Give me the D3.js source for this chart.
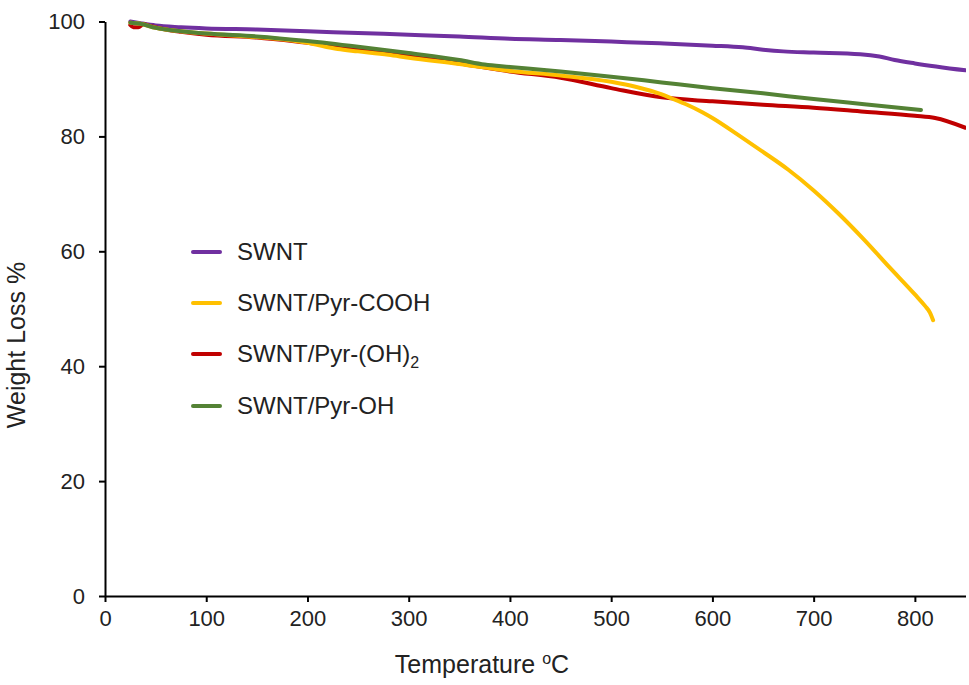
<!DOCTYPE html>
<html>
<head>
<meta charset="utf-8">
<script src="https://cdn.jsdelivr.net/npm/d3@7"></script>
<style>
  html, body { margin: 0; padding: 0; background: #fff; }
  svg { display: block; font-family: Arial, "Liberation Sans", Helvetica, sans-serif; }
</style>
</head>
<body>
<svg id="chart" width="969" height="685"></svg>
<script>
// Thermogravimetric curves: temperature (°C) vs remaining weight (%)
const xTicks = [0, 100, 200, 300, 400, 500, 600, 700, 800];
const yTicks = [0, 20, 40, 60, 80, 100];

const swntT = [25, 35, 50, 75, 100, 150, 200, 250, 300, 350, 400, 450, 500, 548, 600, 630, 650, 670, 700, 746, 765, 780, 800, 850];
const swntW = [100, 99.7, 99.3, 99.0, 98.8, 98.6, 98.3, 98.0, 97.7, 97.4, 97.0, 96.8, 96.5, 96.2, 95.8, 95.5, 95.1, 94.8, 94.6, 94.3, 93.9, 93.3, 92.7, 91.5];

const coohT = [25, 35, 50, 75, 100, 150, 200, 230, 250, 280, 300, 350, 400, 450, 500, 525, 550, 560, 575, 590, 600, 625, 650, 675, 700, 725, 750, 775, 800, 810, 815, 818];
const coohW = [99.8, 99.6, 98.9, 98.3, 97.9, 97.3, 96.3, 95.2, 94.8, 94.2, 93.7, 92.6, 91.4, 90.6, 89.5, 88.6, 87.3, 86.6, 85.5, 84.2, 83.2, 80.3, 77.3, 74.2, 70.6, 66.5, 62.0, 57.2, 52.5, 50.5, 49.3, 48.0];

const diohT = [25, 28, 33, 38, 45, 60, 75, 100, 150, 200, 250, 300, 350, 400, 450, 500, 550, 600, 650, 700, 750, 800, 820, 850];
const diohW = [99.4, 99.0, 99.0, 99.5, 99.2, 98.6, 98.2, 97.7, 97.2, 96.3, 95.3, 94.0, 92.7, 91.3, 90.2, 88.4, 86.8, 86.1, 85.5, 85.0, 84.3, 83.6, 83.2, 81.5];

const ohT = [25, 35, 50, 75, 100, 150, 200, 250, 300, 350, 375, 400, 450, 500, 550, 600, 650, 700, 750, 806];
const ohW = [99.8, 99.6, 98.9, 98.3, 97.9, 97.4, 96.6, 95.6, 94.5, 93.3, 92.5, 92.1, 91.3, 90.4, 89.4, 88.4, 87.5, 86.5, 85.6, 84.6];

const series = [
  { name: "SWNT", sub: null, color: "#7030A0", t: swntT, w: swntW },
  { name: "SWNT/Pyr-COOH", sub: null, color: "#FFC000", t: coohT, w: coohW },
  { name: "SWNT/Pyr-(OH)", sub: "2", color: "#C00000", t: diohT, w: diohW },
  { name: "SWNT/Pyr-OH", sub: null, color: "#548235", t: ohT, w: ohW }
];
// draw order: purple, red, yellow, green on top
const drawOrder = [0, 2, 1, 3];

const svg = d3.select("#chart");
const x = d3.scaleLinear().domain([0, 850]).range([105, 965.5]);
const y = d3.scaleLinear().domain([0, 100]).range([596, 21.5]);

svg.append("defs").append("clipPath").attr("id", "plotClip")
  .append("rect").attr("x", 105).attr("y", 0).attr("width", 861).attr("height", 600);

const line = d3.line()
  .x(d => x(d[0]))
  .y(d => y(d[1]))
  .curve(d3.curveMonotoneX);

const plot = svg.append("g").attr("clip-path", "url(#plotClip)");
drawOrder.forEach(i => {
  const s = series[i];
  plot.append("path")
    .datum(s.t.map((t, k) => [t, s.w[k]]))
    .attr("fill", "none")
    .attr("stroke", s.color)
    .attr("stroke-width", 4)
    .attr("stroke-linecap", "round")
    .attr("stroke-linejoin", "round")
    .attr("d", line);
});

// Axes
const xAxis = svg.append("g").attr("transform", "translate(0,596)")
  .call(d3.axisBottom(x).tickValues(xTicks).tickSize(6).tickSizeOuter(0).tickPadding(8));
const yAxis = svg.append("g").attr("transform", "translate(105,0)")
  .call(d3.axisLeft(y).tickValues(yTicks).tickSize(6).tickSizeOuter(0).tickPadding(14));

[xAxis, yAxis].forEach(g => {
  g.select(".domain").attr("stroke", "#000").attr("stroke-width", 2);
  g.selectAll(".tick line").attr("stroke", "#000").attr("stroke-width", 2);
  g.selectAll(".tick text").attr("fill", "#222").attr("font-size", 22)
    .attr("font-family", "Arial, 'Liberation Sans', sans-serif");
});

// Axis titles
svg.append("text")
  .attr("x", 482).attr("y", 673)
  .attr("text-anchor", "middle")
  .attr("font-size", 25).attr("fill", "#222")
  .call(t => {
    t.append("tspan").text("Temperature ");
    t.append("tspan").attr("font-size", 16).attr("dy", -9).text("o");
    t.append("tspan").attr("dy", 9).text("C");
  });

svg.append("text")
  .attr("transform", "translate(25,345) rotate(-90)")
  .attr("text-anchor", "middle")
  .attr("font-size", 25).attr("fill", "#222")
  .text("Weight Loss %");

// Legend
const legY = [252, 303, 354, 406];
series.forEach((s, i) => {
  const g = svg.append("g").attr("transform", `translate(0,${legY[i]})`);
  g.append("line")
    .attr("x1", 193).attr("x2", 220).attr("y1", 0).attr("y2", 0)
    .attr("stroke", s.color).attr("stroke-width", 4).attr("stroke-linecap", "round");
  const txt = g.append("text")
    .attr("x", 237).attr("y", 8)
    .attr("font-size", 24).attr("fill", "#222");
  txt.append("tspan").text(s.name);
  if (s.sub) {
    txt.append("tspan").attr("font-size", 16).attr("dy", 6).text(s.sub);
  }
});
</script>
</body>
</html>
